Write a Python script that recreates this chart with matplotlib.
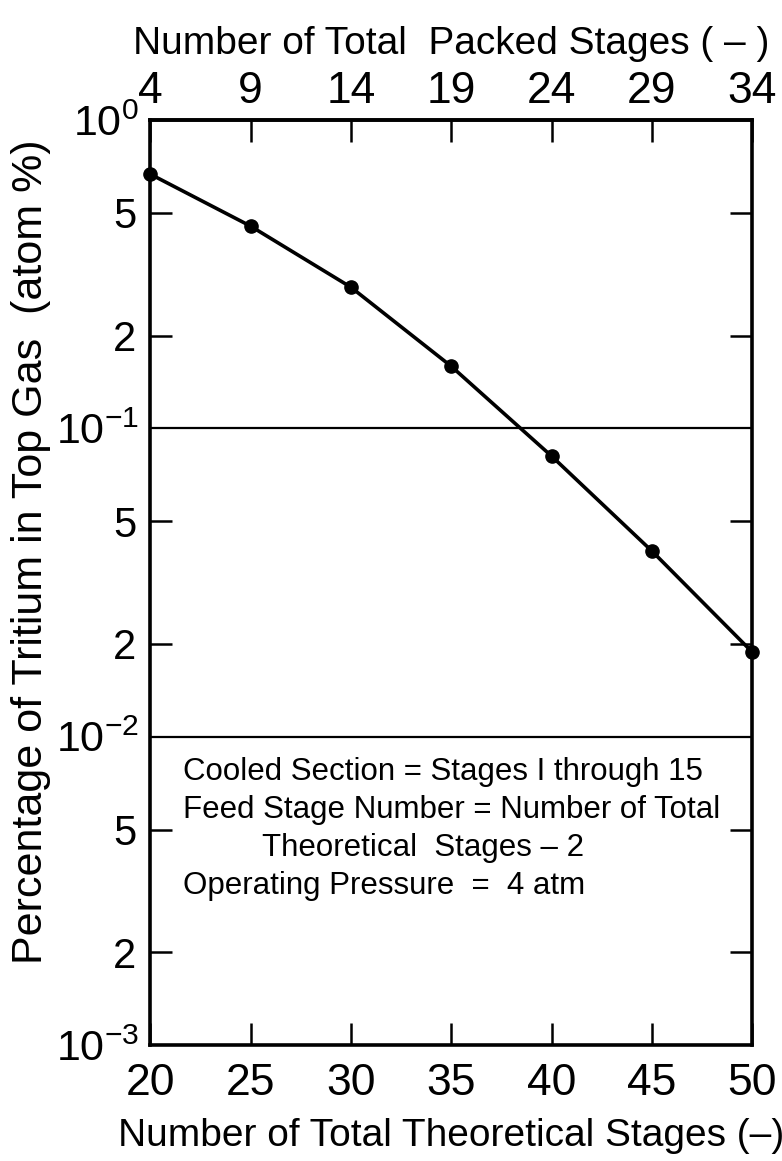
import matplotlib
matplotlib.use("Agg")
import matplotlib.pyplot as plt
from matplotlib.ticker import FixedLocator, FixedFormatter, NullLocator

plt.rcParams['font.family'] = ['Liberation Sans', 'DejaVu Sans']
plt.rcParams['mathtext.default'] = 'regular'

# Data
theoretical_stages = [20, 25, 30, 35, 40, 45, 50]
tritium_pct = [0.668, 0.453, 0.287, 0.159, 0.0813, 0.040, 0.0188]

x_ticks = [20, 25, 30, 35, 40, 45, 50]
x_ticklabels = ['20', '25', '30', '35', '40', '45', '50']
top_ticks = [4, 9, 14, 19, 24, 29, 34]
top_ticklabels = ['4', '9', '14', '19', '24', '29', '34']
y_major = [1e-3, 1e-2, 1e-1, 1e0]
y_major_labels = [r'$10^{-3}$', r'$10^{-2}$', r'$10^{-1}$', r'$10^{0}$']
y_minor = [2e-3, 5e-3, 2e-2, 5e-2, 2e-1, 5e-1]
y_minor_labels = ['2', '5', '2', '5', '2', '5']
grid_levels = [1e-2, 1e-1]
packed_offset = 16

notes = ['Cooled Section = Stages I through 15',
         'Feed Stage Number = Number of Total',
         'Theoretical  Stages \u2013 2',
         'Operating Pressure  =  4 atm']

fig = plt.figure(figsize=(7.82, 11.61), dpi=100)
ax = fig.add_axes([0.192, 0.0999, 0.770, 0.7967])

ax.set_yscale('log')
ax.set_xlim(20, 50)
ax.set_ylim(1e-3, 1e0)

for g in grid_levels:
    ax.axhline(g, color='black', lw=1.6, zorder=1)

ax.plot(theoretical_stages, tritium_pct, color='black', lw=2.6,
        marker='o', ms=9.5, zorder=3, clip_on=False)

for s in ax.spines.values():
    s.set_linewidth(2.6)

# y axis
ax.yaxis.set_major_locator(FixedLocator(y_major))
ax.yaxis.set_major_formatter(FixedFormatter(y_major_labels))
ax.yaxis.set_minor_locator(FixedLocator(y_minor))
ax.yaxis.set_minor_formatter(FixedFormatter(y_minor_labels))
ax.tick_params(axis='y', which='major', length=0, labelsize=31, pad=8)
ax.tick_params(axis='y', which='minor', direction='in', length=16, width=1.8,
               labelsize=30, pad=10, right=True)

# x axis
ax.xaxis.set_major_locator(FixedLocator(x_ticks))
ax.xaxis.set_major_formatter(FixedFormatter(x_ticklabels))
ax.xaxis.set_minor_locator(NullLocator())
ax.tick_params(axis='x', which='major', direction='in', length=16, width=1.8,
               labelsize=32, pad=13)

ax.set_xlabel('Number of Total Theoretical Stages (\u2013)', fontsize=28, labelpad=10)
ax.set_ylabel('Percentage of Tritium in Top Gas  (atom %)', fontsize=31)
ax.yaxis.set_label_coords(-0.165, 0.533)

# top axis
sec = ax.secondary_xaxis('top', functions=(lambda x: x - packed_offset,
                                           lambda x: x + packed_offset))
sec.xaxis.set_major_locator(FixedLocator(top_ticks))
sec.xaxis.set_major_formatter(FixedFormatter(top_ticklabels))
sec.tick_params(axis='x', which='major', direction='in', length=16, width=1.8,
                labelsize=32, pad=6)
sec.spines['top'].set_linewidth(2.6)
sec.set_xlabel('Number of Total  Packed Stages ( \u2013 )', fontsize=28, labelpad=12)

# annotation text
ax.text(0.055, 0.295, notes[0], transform=ax.transAxes, fontsize=22.5, va='center', ha='left')
ax.text(0.055, 0.254, notes[1], transform=ax.transAxes, fontsize=22.5, va='center', ha='left')
ax.text(0.185, 0.213, notes[2], transform=ax.transAxes, fontsize=22.5, va='center', ha='left')
ax.text(0.055, 0.172, notes[3], transform=ax.transAxes, fontsize=22.5, va='center', ha='left')

fig.savefig('out.png', dpi=100)
